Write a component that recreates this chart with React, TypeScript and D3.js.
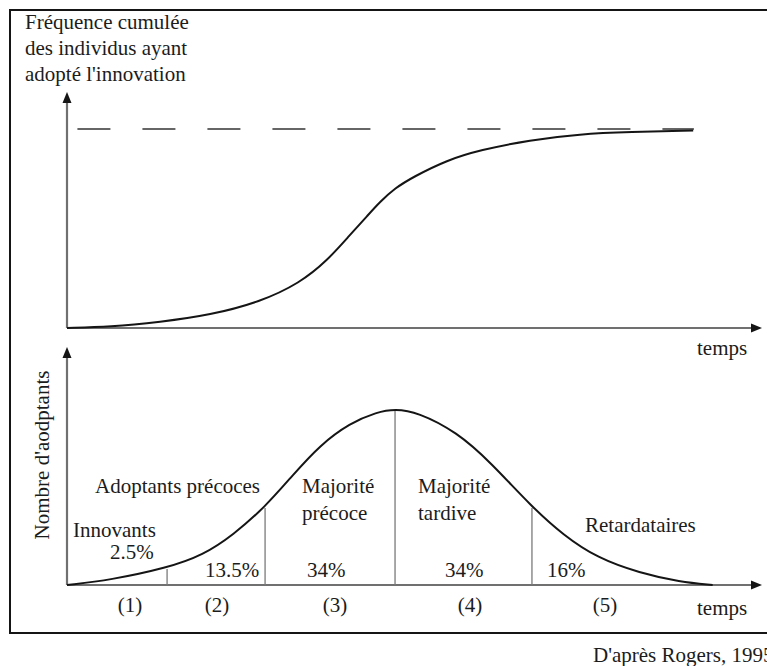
import React from 'react';
import * as d3 from 'd3';

// temps (0-100) and adopters
const cumulT = [0, 6.2, 13.4, 20.6, 27.8, 33.5, 37.4, 40.7, 43.2, 45.0, 47.2, 49.8, 54.7, 59.4, 66.6, 73.8, 81.0, 90.1];
const cumulV = [0, 0.5, 3.0, 6.5, 13.1, 22.6, 33.7, 46.7, 56.3, 63.3, 70.3, 75.9, 84.4, 89.4, 94.5, 97.5, 98.5, 99.2];
const ceilingV = 100;

const bellT = [0, 6.2, 14.4, 19.6, 23.9, 28.5, 32.5, 36.4, 40.7, 44.6, 47.2, 50.4, 56.1, 60.9, 66.9, 71.4, 76.3, 82.4, 88.2, 92.9];
const bellV = [0, 2.8, 9.7, 17.0, 28.4, 44.3, 62.5, 79.5, 92.0, 98.3, 100, 98.3, 86.9, 69.9, 44.3, 28.4, 15.3, 6.8, 1.7, 0];

// segment boundaries (index into bell points)
const dividerIdx = [2, 5, 10, 14];

const segmentLabels = ['(1)', '(2)', '(3)', '(4)', '(5)'];
const groupNames = [['Innovants'], ['Adoptants précoces'], ['Majorité', 'précoce'], ['Majorité', 'tardive'], ['Retardataires']];
const shares = ['2.5%', '13.5%', '34%', '34%', '16%'];

const titleLines = ['Fréquence cumulée', 'des individus ayant', "adopté l'innovation"];
const yLabelBottom = "Nombre d'aodptants";
const xLabel = 'temps';
const source = "D'après Rogers, 1995";

const W = 767;
const H = 666;
const FONT = "'Liberation Serif', 'Times New Roman', serif";
const FS = 21;
const AXIS = '#707070';
const INK = '#151515';
const TXT = '#1c1c1c';

const txtStyle: React.CSSProperties = { fontFamily: FONT, fontSize: FS, fill: TXT };

export default function App() {
  const x = d3.scaleLinear().domain([0, 100]).range([67, 762]);
  const yTop = d3.scaleLinear().domain([0, 100]).range([328, 129]);
  const yBot = d3.scaleLinear().domain([0, 100]).range([585, 409]);

  const cumul = cumulT.map((t, i) => [t, cumulV[i]] as [number, number]);
  const bell = bellT.map((t, i) => [t, bellV[i]] as [number, number]);

  const lineTop = d3
    .line<[number, number]>()
    .x((d) => x(d[0]))
    .y((d) => yTop(d[1]))
    .curve(d3.curveBasis);
  const lineBot = d3
    .line<[number, number]>()
    .x((d) => x(d[0]))
    .y((d) => yBot(d[1]))
    .curve(d3.curveBasis);

  const x0 = x(0);
  const xEnd = x(100);

  const arrowUp = (ax: number, ay: number) => `M${ax},${ay} L${ax - 4.5},${ay + 11} L${ax + 4.5},${ay + 11} Z`;
  const arrowRight = (ax: number, ay: number) => `M${ax},${ay} L${ax - 11},${ay - 4.5} L${ax - 11},${ay + 4.5} Z`;

  // label layout (px)
  const segX = [130, 217, 335, 470, 605];
  const nameX = [73, 95, 302, 418, 585];
  const nameY = [537, 493, 493, 493, 532];
  const shareX = [110, 205, 307, 445, 547];
  const shareY = [559, 577, 577, 577, 577];

  const topArrowY = 92;
  const botArrowY = 347;

  return (
    <svg width={W} height={H} style={{ position: 'absolute', left: 0, top: 0, background: '#fff' }}>
      <rect x={0} y={0} width={W} height={H} fill="#fff" />
      {/* frame */}
      <path d={`M${W},10 L10,10 L10,633 L${W},633`} fill="none" stroke={INK} strokeWidth={2} />

      {titleLines.map((t, i) => (
        <text key={t} x={25} y={29 + i * 26} style={txtStyle}>
          {t}
        </text>
      ))}

      {/* top chart */}
      <line x1={x0} y1={yTop(0)} x2={x0} y2={topArrowY + 8} stroke={AXIS} strokeWidth={2.2} />
      <path d={arrowUp(x0, topArrowY)} fill={INK} />
      <line x1={x0} y1={yTop(0)} x2={xEnd - 8} y2={yTop(0)} stroke={AXIS} strokeWidth={2.2} />
      <path d={arrowRight(xEnd, yTop(0))} fill={INK} />
      <line
        x1={x(1.5)}
        y1={yTop(ceilingV)}
        x2={x(90.2)}
        y2={yTop(ceilingV)}
        stroke="#666"
        strokeWidth={2}
        strokeDasharray="33 32"
      />
      <path d={lineTop(cumul) ?? ''} fill="none" stroke={INK} strokeWidth={2} />
      <text x={697} y={355} style={txtStyle}>
        {xLabel}
      </text>

      {/* bottom chart */}
      <line x1={x0} y1={yBot(0)} x2={x0} y2={botArrowY + 8} stroke={AXIS} strokeWidth={2.2} />
      <path d={arrowUp(x0, botArrowY)} fill={INK} />
      <line x1={x0} y1={yBot(0)} x2={xEnd - 8} y2={yBot(0)} stroke={AXIS} strokeWidth={2.2} />
      <path d={arrowRight(xEnd, yBot(0))} fill={INK} />
      {dividerIdx.map((i) => (
        <line key={i} x1={x(bellT[i])} y1={yBot(0)} x2={x(bellT[i])} y2={yBot(bellV[i]) + 1} stroke="#7a7a7a" strokeWidth={1.3} />
      ))}
      <path d={lineBot(bell) ?? ''} fill="none" stroke={INK} strokeWidth={2} />

      <text transform={`translate(49,455) rotate(-90)`} textAnchor="middle" style={txtStyle}>
        {yLabelBottom}
      </text>
      {segmentLabels.map((s, i) => (
        <text key={s} x={segX[i]} y={612} textAnchor="middle" style={txtStyle}>
          {s}
        </text>
      ))}
      {groupNames.map((lines, i) =>
        lines.map((l, j) => (
          <text key={`${i}-${j}`} x={nameX[i]} y={nameY[i] + j * 27} style={txtStyle}>
            {l}
          </text>
        ))
      )}
      {shares.map((s, i) => (
        <text key={`s${i}`} x={shareX[i]} y={shareY[i]} style={txtStyle}>
          {s}
        </text>
      ))}
      <text x={697} y={615} style={txtStyle}>
        {xLabel}
      </text>
      <text x={593} y={662} style={txtStyle}>
        {source}
      </text>
    </svg>
  );
}
